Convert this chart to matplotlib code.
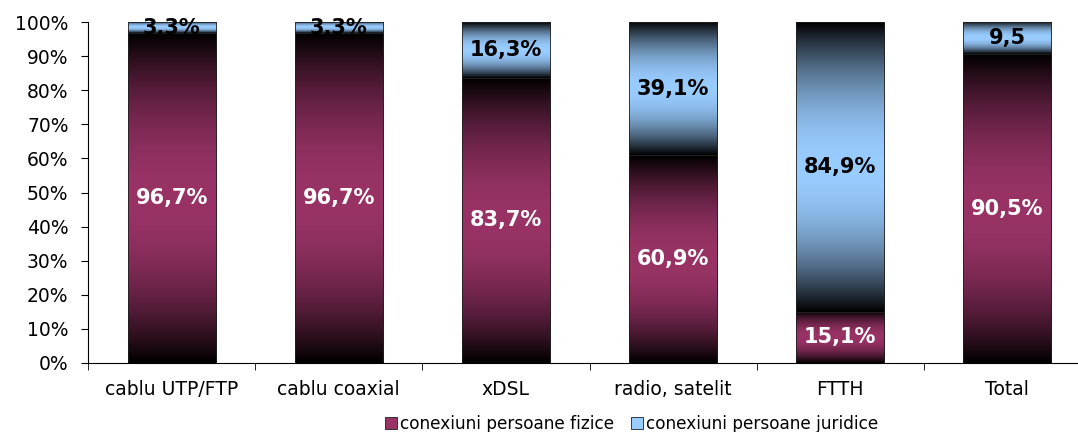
import numpy as np
import matplotlib
matplotlib.use("Agg")
import matplotlib.pyplot as plt
from matplotlib.patches import Patch
from matplotlib.colors import to_rgb

categories = ["cablu UTP/FTP", "cablu coaxial", "xDSL", "radio, satelit", "FTTH", "Total"]
fizice = [96.7, 96.7, 83.7, 60.9, 15.1, 90.5]
juridice = [3.3, 3.3, 16.3, 39.1, 84.9, 9.5]
fizice_labels = ["96,7%", "96,7%", "83,7%", "60,9%", "15,1%", "90,5%"]
juridice_labels = ["3,3%", "3,3%", "16,3%", "39,1%", "84,9%", "9,5"]
series_names = ["conexiuni persoane fizice", "conexiuni persoane juridice"]
yticks = list(range(0, 101, 10))

col_f = "#993366"
col_j = "#99CCFF"

plt.rcParams['font.family'] = ['DejaVu Sans']

fig = plt.figure(figsize=(10.78, 4.32), dpi=100)
ax = fig.add_axes([88/1078, 1-363/432, 1003/1078, 341/432])

width = 0.527
x = np.arange(len(categories))


def grad_bar(ax, xc, bottom, height, color):
    n = 256
    t = np.linspace(0, 1, n)
    b = 1 - np.abs(2*t - 1)**2
    rgb = np.array(to_rgb(color))
    img = (b[:, None] * rgb[None, :])[:, None, :]
    ax.imshow(img, extent=[xc - width/2, xc + width/2, bottom, bottom + height],
              origin='lower', aspect='auto', interpolation='bilinear', zorder=2)
    ax.add_patch(plt.Rectangle((xc - width/2, bottom), width, height, fill=False,
                               edgecolor='#202020', linewidth=0.6, zorder=3))


for i in range(len(categories)):
    grad_bar(ax, x[i], 0, fizice[i], col_f)
    grad_bar(ax, x[i], fizice[i], juridice[i], col_j)
    ax.text(x[i], fizice[i]/2, fizice_labels[i], ha='center', va='center',
            color='white', fontsize=15, fontweight='bold', zorder=5)
    ax.text(x[i], fizice[i] + juridice[i]/2, juridice_labels[i], ha='center', va='center',
            color='black', fontsize=15, fontweight='bold', zorder=5)

ax.set_xlim(-0.5, len(categories) - 0.5)
ax.set_ylim(0, 100)
ax.set_yticks(yticks)
ax.set_yticklabels([f"{v}%" for v in yticks], fontsize=13.5)
ax.set_xticks(x)
ax.set_xticklabels(categories, fontsize=13.5)
ax.tick_params(axis='x', length=0, pad=12)
ax.set_xticks(np.arange(len(categories) + 1) - 0.5, minor=True)
ax.tick_params(axis='x', which='minor', length=5, direction='out')
ax.tick_params(axis='y', length=5, direction='out', pad=9)
ax.spines['top'].set_visible(False)
ax.spines['right'].set_visible(False)

handles = [Patch(facecolor=col_f, edgecolor='#202020', linewidth=0.6),
           Patch(facecolor=col_j, edgecolor='#202020', linewidth=0.6)]
fig.legend(handles, series_names, loc='center', bbox_to_anchor=(0.586, 0.018), ncol=2,
           frameon=False, fontsize=12.2, handlelength=0.7, handleheight=0.7,
           handletextpad=0.2, columnspacing=1.0)

fig.savefig("out.png", dpi=100)
